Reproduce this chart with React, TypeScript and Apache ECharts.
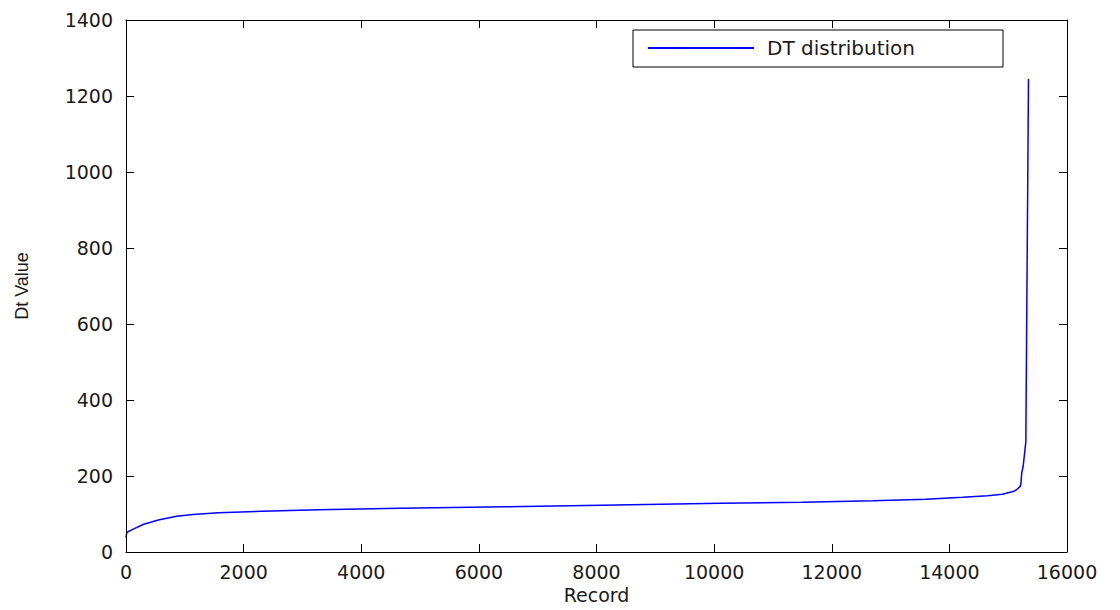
import React, { useEffect, useRef } from "react";
import * as echarts from "echarts";

const recordX = [0, 15, 150, 300, 550, 860, 1140, 1570, 2310, 3270, 4660, 6440, 8340, 10100, 11500, 12700, 13600, 14230, 14650, 14900, 15000, 15100, 15150, 15200, 15215, 15230, 15254, 15300, 15345];
const dtValues = [38, 52, 62, 73, 84, 94, 99, 103, 107, 111, 115, 119, 124, 128, 131, 135, 139, 144, 148, 152, 156, 160, 165, 172, 178, 208, 225, 290, 1245];
const seriesName = "DT distribution";
const xTitle = "Record";
const yTitle = "Dt Value";

export default function App() {
  const ref = useRef<HTMLDivElement>(null);
  useEffect(() => {
    const chart = echarts.init(ref.current!, null, { renderer: "svg" });
    const data = recordX.map((x, i) => [x, dtValues[i]]);
    const font = "DejaVu Sans";
    const txt = "#1a1a1a";
    const tick = { show: true, inside: true, length: 8, lineStyle: { color: "#000", width: 1 } };
    const line = { show: true, onZero: false, lineStyle: { color: "#000", width: 1 } };
    chart.setOption({
      animation: false,
      backgroundColor: "#ffffff",
      grid: { left: 126, right: 53, top: 20, bottom: 58 },
      legend: {
        left: 648,
        top: 38,
        padding: 0,
        itemWidth: 106,
        itemHeight: 2,
        icon: "rect",
        data: [{ name: seriesName, icon: "rect", itemStyle: { color: "#0000ff" } }],
        textStyle: { fontFamily: font, fontSize: 20, color: txt, padding: [0, 0, 0, 8] },
      },
      graphic: [
        {
          type: "rect",
          shape: { x: 633, y: 30, width: 370, height: 37 },
          style: { fill: "#fff", stroke: "#000", lineWidth: 1 },
          z: 0,
        },
      ],
      xAxis: [
        {
          type: "value",
          min: 0,
          max: 16000,
          interval: 2000,
          z: 10,
          name: xTitle,
          nameLocation: "middle",
          nameGap: 33,
          nameTextStyle: { fontFamily: font, fontSize: 19, color: txt },
          axisLine: line,
          axisTick: tick,
          axisLabel: { fontFamily: font, fontSize: 19, color: txt, margin: 10, formatter: (v: number) => String(v) },
          splitLine: { show: false },
        },
        {
          type: "value",
          position: "top",
          min: 0,
          max: 16000,
          interval: 2000,
          z: 10,
          axisLine: line,
          axisTick: tick,
          axisLabel: { show: false },
          splitLine: { show: false },
        },
      ],
      yAxis: [
        {
          type: "value",
          min: 0,
          max: 1400,
          interval: 200,
          z: 10,
          name: yTitle,
          nameLocation: "middle",
          nameGap: 95,
          nameTextStyle: { fontFamily: "Liberation Sans", fontSize: 18, color: txt },
          axisLine: line,
          axisTick: tick,
          axisLabel: { fontFamily: font, fontSize: 19, color: txt, margin: 13, formatter: (v: number) => String(v) },
          splitLine: { show: false },
        },
        {
          type: "value",
          position: "right",
          min: 0,
          max: 1400,
          interval: 200,
          z: 10,
          axisLine: line,
          axisTick: tick,
          axisLabel: { show: false },
          splitLine: { show: false },
        },
      ],
      series: [
        {
          name: seriesName,
          type: "line",
          xAxisIndex: 0,
          yAxisIndex: 0,
          data,
          symbol: "none",
          lineStyle: { color: "#0000ff", width: 1.5 },
          itemStyle: { color: "#0000ff" },
          z: 5,
        },
      ],
    });
    return () => chart.dispose();
  }, []);
  return <div ref={ref} style={{ position: "fixed", left: 0, top: 0, width: 1120, height: 610 }} />;
}
